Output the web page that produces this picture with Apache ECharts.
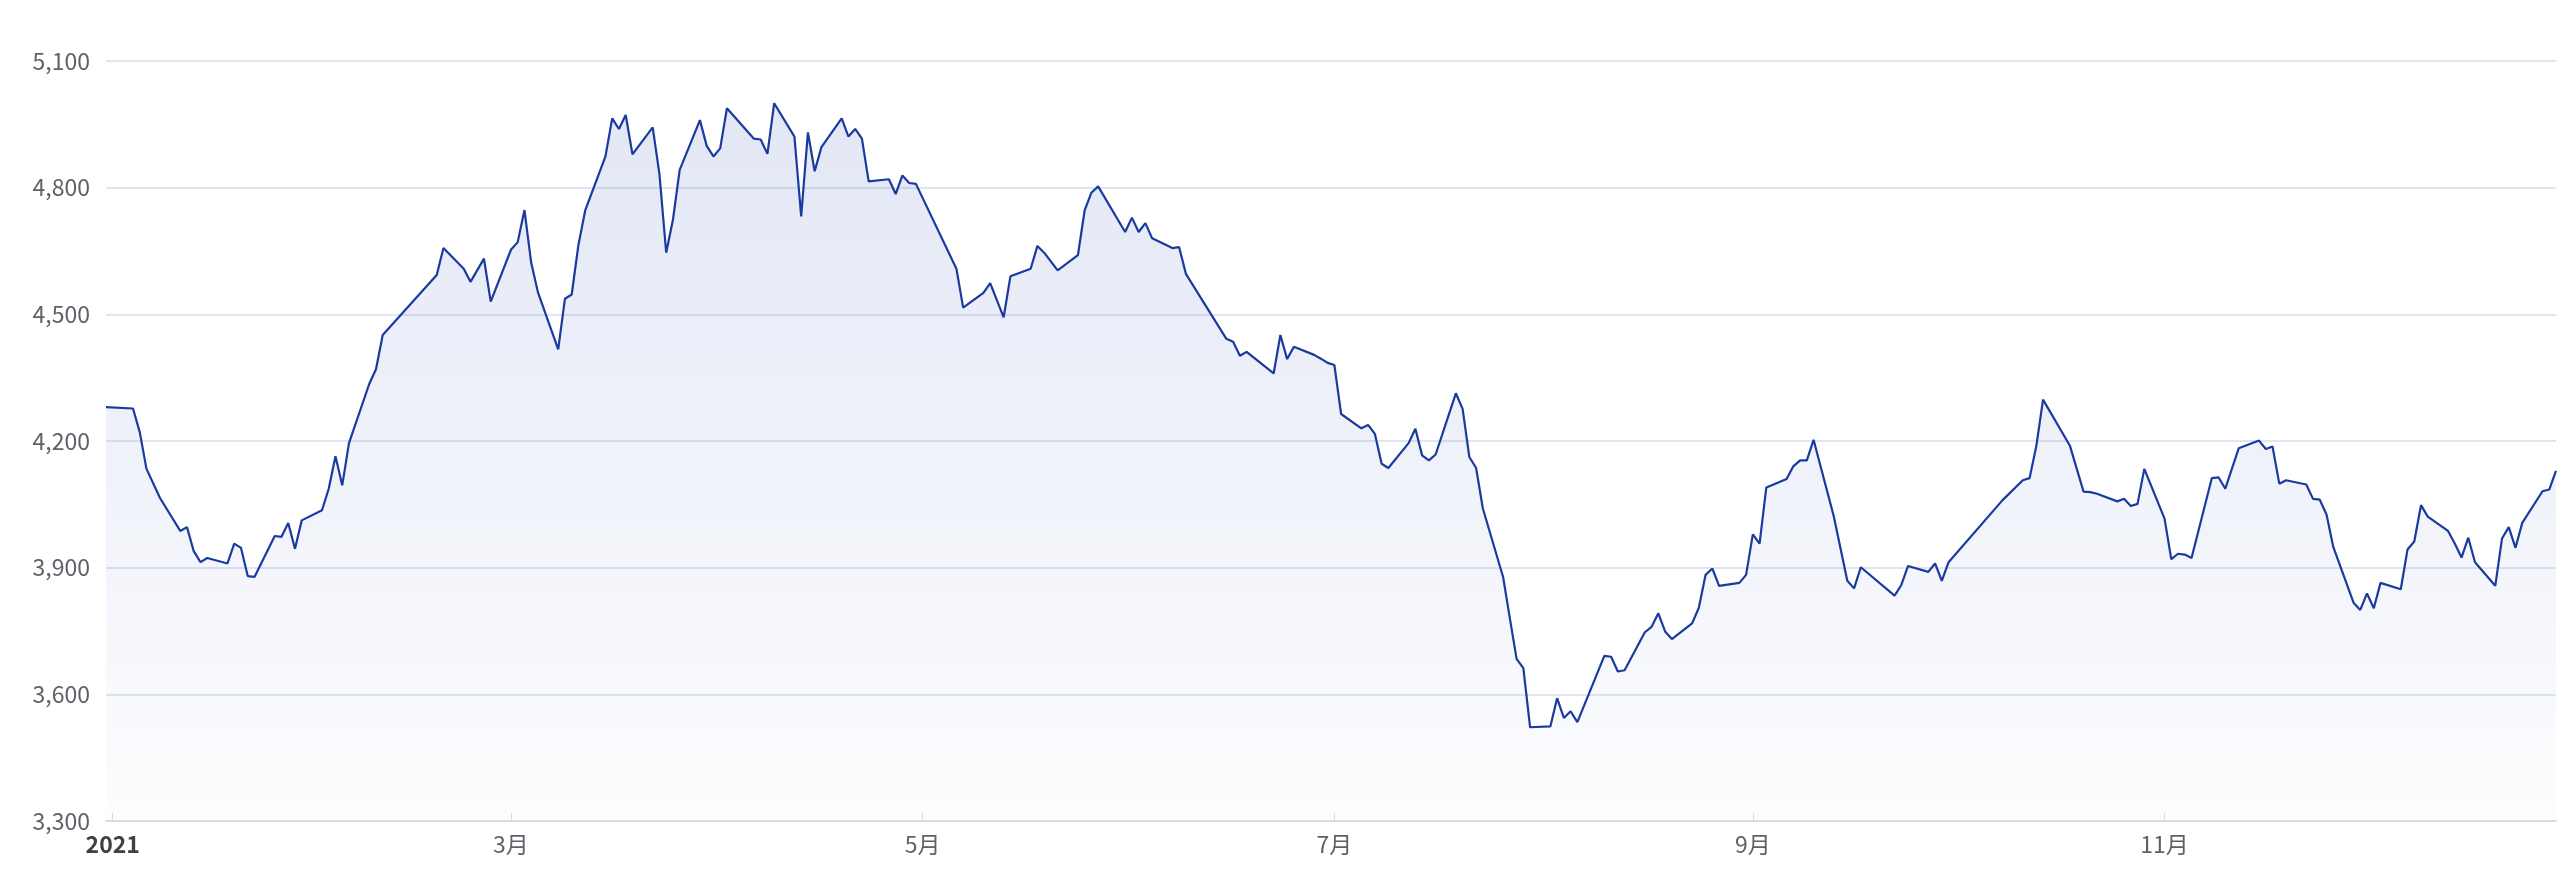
<!DOCTYPE html>
<html>
<head>
<meta charset="utf-8">
<script src="https://cdn.jsdelivr.net/npm/echarts@6/dist/echarts.min.js"></script>
<style>
html,body{margin:0;padding:0;background:#fff;}
#chart{width:2562px;height:869px;}
</style>
</head>
<body>
<div id="chart"></div>
<script>
const dates = [
'2020-12-31','2021-01-04','2021-01-05','2021-01-06','2021-01-08','2021-01-11','2021-01-12','2021-01-13','2021-01-14','2021-01-15',
'2021-01-18','2021-01-19','2021-01-20','2021-01-21','2021-01-22','2021-01-25','2021-01-26','2021-01-27','2021-01-28','2021-01-29',
'2021-02-01','2021-02-02','2021-02-03','2021-02-04','2021-02-05','2021-02-08','2021-02-09','2021-02-10','2021-02-18','2021-02-19',
'2021-02-22','2021-02-23','2021-02-25','2021-02-26','2021-03-01','2021-03-02','2021-03-03','2021-03-04','2021-03-05','2021-03-08',
'2021-03-09','2021-03-10','2021-03-11','2021-03-12','2021-03-15','2021-03-16','2021-03-17','2021-03-18','2021-03-19','2021-03-22',
'2021-03-23','2021-03-24','2021-03-25','2021-03-26','2021-03-29','2021-03-30','2021-03-31','2021-04-01','2021-04-02','2021-04-06',
'2021-04-07','2021-04-08','2021-04-09','2021-04-12','2021-04-13','2021-04-14','2021-04-15','2021-04-16','2021-04-19','2021-04-20',
'2021-04-21','2021-04-22','2021-04-23','2021-04-26','2021-04-27','2021-04-28','2021-04-29','2021-04-30','2021-05-06','2021-05-07',
'2021-05-10','2021-05-11','2021-05-13','2021-05-14','2021-05-17','2021-05-18','2021-05-19','2021-05-21','2021-05-24','2021-05-25',
'2021-05-26','2021-05-27','2021-05-31','2021-06-01','2021-06-02','2021-06-03','2021-06-04','2021-06-07','2021-06-08','2021-06-09',
'2021-06-15','2021-06-16','2021-06-17','2021-06-18','2021-06-22','2021-06-23','2021-06-24','2021-06-25','2021-06-28','2021-06-29',
'2021-06-30','2021-07-01','2021-07-02','2021-07-05','2021-07-06','2021-07-07','2021-07-08','2021-07-09','2021-07-12','2021-07-13',
'2021-07-14','2021-07-15','2021-07-16','2021-07-19','2021-07-20','2021-07-21','2021-07-22','2021-07-23','2021-07-26','2021-07-27',
'2021-07-28','2021-07-29','2021-07-30','2021-08-02','2021-08-03','2021-08-04','2021-08-05','2021-08-06','2021-08-10','2021-08-11',
'2021-08-12','2021-08-13','2021-08-16','2021-08-17','2021-08-18','2021-08-19','2021-08-20','2021-08-23','2021-08-24','2021-08-25',
'2021-08-26','2021-08-27','2021-08-30','2021-08-31','2021-09-01','2021-09-02','2021-09-03','2021-09-06','2021-09-07','2021-09-08',
'2021-09-09','2021-09-10','2021-09-13','2021-09-15','2021-09-16','2021-09-17','2021-09-22','2021-09-23','2021-09-24','2021-09-27',
'2021-09-28','2021-09-29','2021-09-30','2021-10-08','2021-10-11','2021-10-12','2021-10-13','2021-10-14','2021-10-18','2021-10-20',
'2021-10-21','2021-10-22','2021-10-25','2021-10-26','2021-10-27','2021-10-28','2021-10-29','2021-11-01','2021-11-02','2021-11-03',
'2021-11-04','2021-11-05','2021-11-08','2021-11-09','2021-11-10','2021-11-12','2021-11-15','2021-11-16','2021-11-17','2021-11-18',
'2021-11-19','2021-11-22','2021-11-23','2021-11-24','2021-11-25','2021-11-26','2021-11-29','2021-11-30','2021-12-01','2021-12-02',
'2021-12-03','2021-12-06','2021-12-07','2021-12-08','2021-12-09','2021-12-10','2021-12-13','2021-12-14','2021-12-15','2021-12-16',
'2021-12-17','2021-12-20','2021-12-21','2021-12-22','2021-12-23','2021-12-24','2021-12-27','2021-12-28','2021-12-29'
];
const values = [
4280,4277,4221,4134,4065,3987,3996,3939,3913,3923,
3910,3957,3947,3880,3878,3975,3973,4006,3945,4012,
4036,4087,4164,4095,4195,4335,4370,4451,4593,4657,
4608,4577,4632,4530,4653,4671,4747,4622,4552,4417,
4537,4547,4665,4746,4874,4964,4939,4972,4879,4943,
4832,4646,4724,4842,4960,4899,4874,4893,4988,4916,
4914,4880,5000,4921,4732,4931,4839,4896,4964,4921,
4939,4916,4815,4820,4785,4829,4811,4809,4608,4516,
4551,4574,4493,4590,4608,4662,4646,4604,4640,4746,
4788,4803,4695,4729,4695,4716,4680,4657,4659,4596,
4442,4435,4402,4411,4360,4451,4394,4423,4404,4395,
4385,4380,4264,4230,4238,4217,4146,4136,4195,4229,
4166,4154,4168,4313,4276,4162,4136,4040,3878,3780,
3684,3662,3522,3524,3591,3544,3560,3534,3691,3689,
3654,3657,3747,3760,3792,3749,3731,3768,3805,3883,
3898,3857,3864,3883,3979,3957,4090,4110,4140,4154,
4154,4203,4021,3869,3851,3901,3834,3859,3904,3890,
3910,3869,3913,4060,4107,4112,4188,4298,4188,4080,
4079,4075,4057,4063,4046,4051,4134,4016,3920,3933,
3931,3923,4112,4114,4087,4183,4201,4181,4187,4099,
4107,4097,4063,4061,4026,3949,3817,3800,3839,3804,
3864,3849,3943,3962,4048,4021,3987,3957,3924,3971,
3913,3857,3969,3996,3947,4006,4081,4085,4129
];
const yMin = 3300, yMax = 5100, yStep = 300;

const seriesData = dates.map((d, i) => [d, values[i]]);
const chart = echarts.init(document.getElementById('chart'), null, {renderer: 'canvas'});
const FONT = '"Noto Sans CJK SC", "Noto Sans", sans-serif';
chart.setOption({
  animation: false,
  backgroundColor: '#ffffff',
  grid: {left: 106, right: 6, top: 61, bottom: 48, containLabel: false},
  xAxis: {
    type: 'time',
    min: 'dataMin',
    max: 'dataMax',
    splitNumber: 5,
    axisLine: {show: true, lineStyle: {color: '#dcdcdc', width: 2}},
    axisTick: {show: true, inside: true, length: 8, lineStyle: {color: '#dcdcdc', width: 1}},
    minorTick: {show: false},
    splitLine: {show: false},
    axisLabel: {
      fontSize: 23,
      margin: 12,
      color: '#5f6168',
      fontFamily: FONT,
      formatter: function (val) {
        const d = new Date(val);
        if (d.getMonth() === 0) return '{y|' + d.getFullYear() + '}';
        return (d.getMonth() + 1) + '月';
      },
      rich: {
        y: {fontSize: 23, fontWeight: 'bold', color: '#404040', fontFamily: FONT}
      }
    }
  },
  yAxis: {
    type: 'value',
    min: yMin,
    max: yMax,
    interval: yStep,
    axisLine: {show: false},
    axisTick: {show: false},
    splitLine: {show: true, lineStyle: {color: '#e0e6f1', width: 2}},
    axisLabel: {
      fontSize: 23,
      margin: 16,
      color: '#5f6168',
      fontFamily: FONT
    }
  },
  series: [{
    type: 'line',
    data: seriesData,
    showSymbol: false,
    symbol: 'none',
    lineStyle: {color: '#1a3aa0', width: 2.2},
    itemStyle: {color: '#1a3aa0'},
    areaStyle: {
      color: new echarts.graphic.LinearGradient(0, 0, 0, 1, [
        {offset: 0, color: 'rgba(70,100,190,0.22)'},
        {offset: 1, color: 'rgba(70,100,190,0.02)'}
      ])
    }
  }]
});
</script>
</body>
</html>
